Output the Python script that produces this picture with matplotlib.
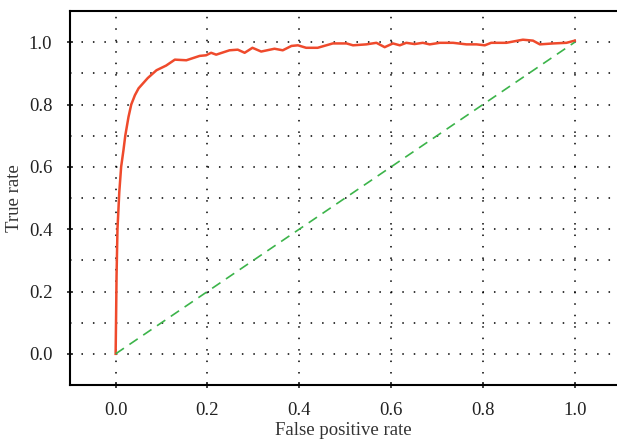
import matplotlib
matplotlib.use("Agg")
import matplotlib.pyplot as plt
import numpy as np

# ROC curve
fpr = [0.0, 0.001, 0.002, 0.004, 0.008, 0.012, 0.017, 0.021, 0.028, 0.034, 0.042,
       0.050, 0.070, 0.089, 0.110, 0.129, 0.154, 0.183, 0.197, 0.208, 0.219,
       0.248, 0.266, 0.281, 0.298, 0.317, 0.346, 0.364, 0.383, 0.397, 0.415,
       0.423, 0.440, 0.473, 0.503, 0.517, 0.546, 0.568, 0.586, 0.604, 0.619,
       0.633, 0.651, 0.669, 0.684, 0.706, 0.735, 0.764, 0.786, 0.804, 0.818,
       0.851, 0.869, 0.887, 0.909, 0.924, 0.953, 0.982, 1.0]
tpr = [0.0, 0.12, 0.25, 0.40, 0.52, 0.60, 0.653, 0.70, 0.76, 0.80, 0.83,
       0.852, 0.885, 0.910, 0.925, 0.944, 0.942, 0.956, 0.958, 0.966, 0.960,
       0.974, 0.976, 0.966, 0.982, 0.970, 0.979, 0.974, 0.988, 0.990, 0.982,
       0.982, 0.982, 0.996, 0.996, 0.990, 0.993, 0.998, 0.984, 0.996, 0.990,
       0.998, 0.994, 0.998, 0.993, 0.998, 0.998, 0.993, 0.993, 0.990, 0.998,
       0.998, 1.003, 1.008, 1.005, 0.993, 0.996, 0.998, 1.005]
chance = [0.0, 1.0]

plt.rcParams['font.family'] = ['Liberation Serif', 'DejaVu Serif']

fig = plt.figure(figsize=(6.17, 4.41), dpi=100)
ax = fig.add_axes([0.113, 0.127, 0.887, 0.848])

ax.plot(fpr, tpr, color='#ef4a2c', lw=1.8, zorder=3)
ax.plot(chance, chance, color='#3cb44a', lw=1.2, dashes=(6, 4), zorder=3)

ax.set_xlim(-0.1, 1.092)
ax.set_ylim(-0.1, 1.1)
ax.set_xticks(np.arange(0, 1.01, 0.2))
ax.set_yticks(np.arange(0, 1.01, 0.2))
ax.set_yticks(np.arange(-0.1, 1.11, 0.1), minor=True)
ax.xaxis.set_major_formatter(matplotlib.ticker.FormatStrFormatter('%.1f'))
ax.yaxis.set_major_formatter(matplotlib.ticker.FormatStrFormatter('%.1f'))

dots = (0, (1, 6.5))
ax.grid(True, axis='x', which='major', color='black', lw=1.1, linestyle=dots)
ax.grid(True, axis='y', which='both', color='black', lw=1.1, linestyle=dots)

ax.tick_params(which='major', direction='inout', length=5, width=1.2,
               labelsize=13.5, colors='#222222', pad=10)
ax.tick_params(which='minor', length=0)

ax.spines['right'].set_visible(False)
for s in ['left', 'bottom', 'top']:
    ax.spines[s].set_linewidth(1.5)

ax.set_xlabel("False positive rate", fontsize=13.5, color='#333333', labelpad=2)
ax.set_ylabel("True rate", fontsize=13.5, color='#333333', labelpad=4)

fig.savefig("out.png", dpi=100)
